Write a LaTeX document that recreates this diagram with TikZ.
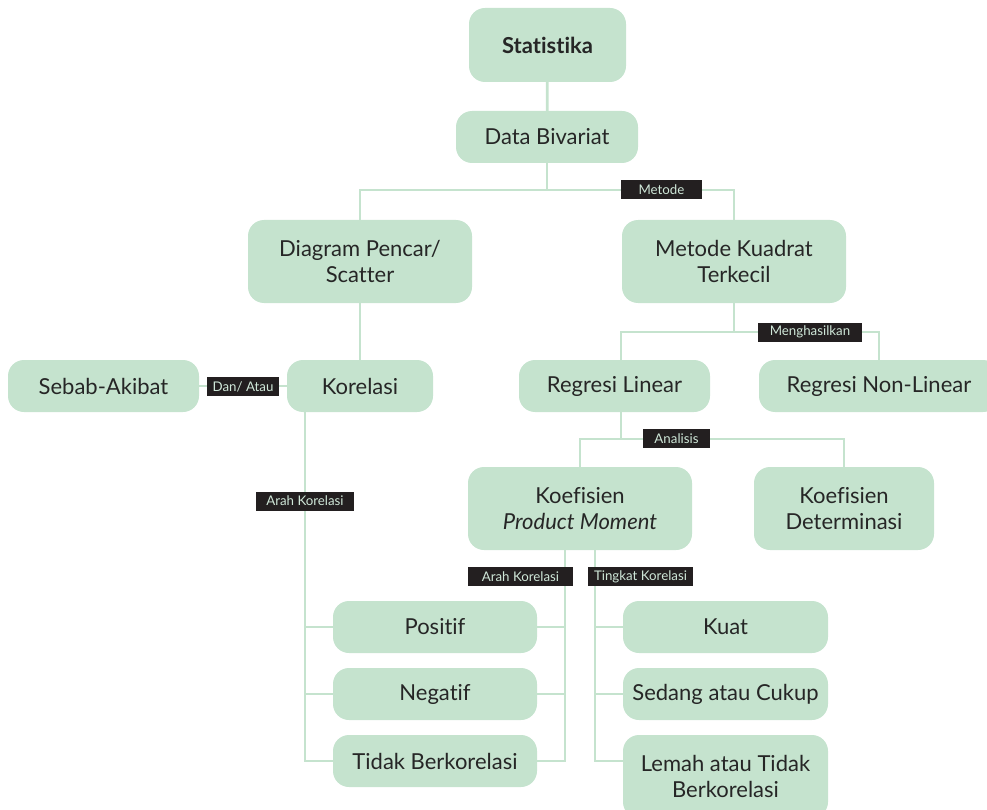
\documentclass[tikz,border=0pt]{standalone}
\usepackage{fontspec}
\setmainfont{Lato}[Ligatures=NoCommon]
\definecolor{boxg}{HTML}{C5E3CE}
\definecolor{labbg}{HTML}{231F20}
\definecolor{labtx}{HTML}{CFE7D8}
\definecolor{txt}{HTML}{262626}
\begin{document}
\begin{tikzpicture}[x=1pt,y=-1pt,
 box/.style={fill=boxg, rounded corners=16pt, text=txt, font=\fontsize{22}{26.5}\selectfont, align=center, inner sep=0pt},
 conn/.style={draw=boxg, line width=2.8pt},
 lbl/.style={fill=labbg, text=labtx, font=\fontsize{13.3}{15}\selectfont, inner xsep=3pt, inner ysep=0pt, minimum height=19pt}]
\useasboundingbox (0,0) rectangle (987,810);
% nodes
\node[box, minimum width=157pt, minimum height=74pt] (stat) at (547.5,45) {\textbf{Statistika}};
\node[box, minimum width=182pt, minimum height=52pt] (db) at (547,137) {Data Bivariat};
\node[box, minimum width=224pt, minimum height=83pt] (dp) at (360,261.5) {Diagram Pencar/\\Scatter};
\node[box, minimum width=224pt, minimum height=83pt] (mk) at (734,261.5) {Metode Kuadrat\\Terkecil};
\node[box, minimum width=191pt, minimum height=52pt] (sa) at (103.5,386) {Sebab-Akibat};
\node[box, minimum width=146pt, minimum height=52pt] (kor) at (360,386) {Korelasi};
\node[box, minimum width=191pt, minimum height=52pt] (rl) at (614.5,386) {Regresi Linear};
\node[box, minimum width=240pt, minimum height=52pt] (rnl) at (879,386) {Regresi Non-Linear};
\node[box, minimum width=224pt, minimum height=83pt] (kpm) at (580,508.5) {Koefisien\\\textit{Product Moment}};
\node[box, minimum width=180pt, minimum height=83pt] (kd) at (844,508.5) {Koefisien\\Determinasi};
\node[box, minimum width=204pt, minimum height=52pt] (pos) at (435,627) {Positif};
\node[box, minimum width=204pt, minimum height=52pt] (neg) at (435,694) {Negatif};
\node[box, minimum width=204pt, minimum height=52pt] (tb) at (435,761) {Tidak Berkorelasi};
\node[box, minimum width=205pt, minimum height=52pt] (kuat) at (725.5,627) {Kuat};
\node[box, minimum width=205pt, minimum height=52pt] (sed) at (725.5,694) {Sedang atau Cukup};
\node[box, minimum width=205pt, minimum height=83pt] (lem) at (725.5,776.5) {Lemah atau Tidak\\Berkorelasi};
% junctions
\coordinate (j1) at (547,190);
\coordinate (j2) at (734,332);
\coordinate (j3) at (621,439);
% connectors
\draw[conn] (stat) -- (db);
\draw[conn] (db.south) -- (j1);
\draw[conn] (dp.north) |- (j1) -| (mk.north);
\draw[conn] (dp) -- (kor);
\draw[conn] (kor) -- (sa);
\draw[conn] (mk.south) -- (j2);
\draw[conn] ([xshift=6.5pt]rl.north) |- (j2) -| (rnl.north);
\draw[conn] ([xshift=6.5pt]rl.south) -- (j3);
\draw[conn] (kpm.north) |- (j3) -| (kd.north);
\draw[conn] ([xshift=-55pt]kor.south) |- (pos.west);
\draw[conn] ([xshift=-55pt]kor.south) |- (neg.west);
\draw[conn] ([xshift=-55pt]kor.south) |- (tb.west);
\draw[conn] ([xshift=-15pt]kpm.south) |- (pos.east);
\draw[conn] ([xshift=-15pt]kpm.south) |- (neg.east);
\draw[conn] ([xshift=-15pt]kpm.south) |- (tb.east);
\draw[conn] ([xshift=15pt]kpm.south) |- (kuat.west);
\draw[conn] ([xshift=15pt]kpm.south) |- (sed.west);
\draw[conn] ([xshift=15pt]kpm.south) |- ([yshift=15.5pt]lem.west);
% labels
\node[lbl, minimum width=81pt] (l1) at (661.5,190) {Metode};
\node[lbl, minimum width=72pt] (l2) at (243,386.5) {Dan/ Atau};
\node[lbl, minimum width=104pt] (l3) at (810,332) {Menghasilkan};
\node[lbl, minimum width=67pt] (l4) at (676.5,438.5) {Analisis};
\node[lbl, minimum width=98pt] (l5) at (305,501) {Arah Korelasi};
\node[lbl, minimum width=105pt] (l6) at (520.5,576.5) {Arah Korelasi};
\node[lbl, minimum width=105pt] (l7) at (640.5,576.5) {Tingkat Korelasi};
\end{tikzpicture}
\end{document}
